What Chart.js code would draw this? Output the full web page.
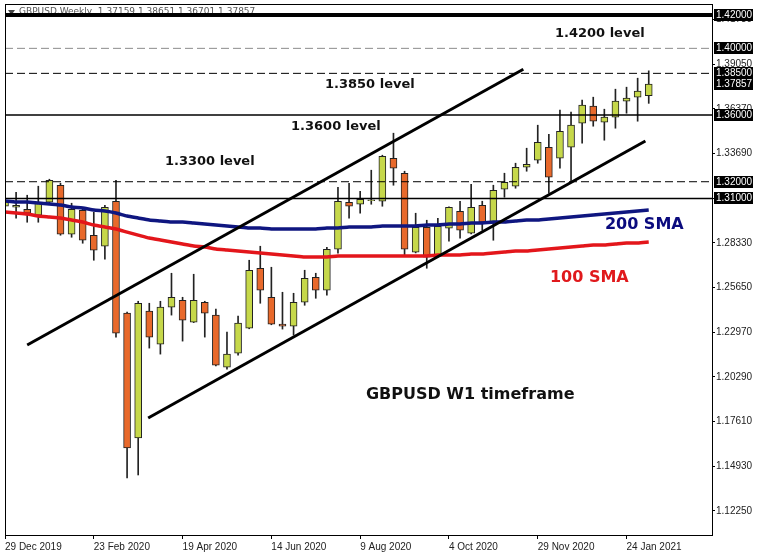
<!DOCTYPE html>
<html>
<head>
<meta charset="utf-8">
<script src="https://cdn.jsdelivr.net/npm/chart.js@4/dist/chart.umd.min.js"></script>
<style>
html,body{margin:0;padding:0;background:#fff;}
#wrap{width:759px;height:558px;position:relative;}
</style>
</head>
<body>
<div id="wrap"><canvas id="c" width="759" height="558"></canvas></div>
<script>
// ---------- data ----------
const headerText = 'GBPUSD,Weekly  1.37159 1.38651 1.36701 1.37857';
const xTickIndex = [0, 8, 16, 24, 32, 40, 48, 56];
const xTickLabels = ['29 Dec 2019', '23 Feb 2020', '19 Apr 2020', '14 Jun 2020', '9 Aug 2020', '4 Oct 2020', '29 Nov 2020', '24 Jan 2021'];
const yTickValues = [1.1225, 1.1493, 1.1761, 1.2029, 1.2297, 1.2565, 1.2833, 1.3101, 1.3369, 1.3637, 1.3905, 1.4173];
const priceBoxValues = [1.42, 1.40, 1.385, 1.37857, 1.36, 1.32, 1.31];

const open = [1.3053,1.3047,1.3035,1.2999,1.3077,1.3179,1.2885,1.3029,1.2879,1.2813,
1.3083,1.2412,1.1663,1.2424,1.2226,1.2448,1.2489,1.2358,1.2477,1.2400,
1.2088,1.2172,1.2322,1.2681,1.2507,1.2346,1.2334,1.2477,1.2627,1.2549,
1.2795,1.3077,1.3065,1.3086,1.3083,1.3341,1.3251,1.2777,1.2927,1.2753,
1.2921,1.3023,1.2891,1.3059,1.2951,1.3155,1.3173,1.3287,1.3329,1.3407,
1.3341,1.3407,1.3551,1.3653,1.3557,1.3587,1.3683,1.3707,1.37159];
const high = [1.3113,1.3137,1.3119,1.3173,1.3215,1.3191,1.3071,1.3047,1.3017,1.3059,
1.3209,1.2418,1.2483,1.2471,1.2483,1.2651,1.2507,1.2645,1.2483,1.2436,
1.2298,1.2394,1.2729,1.2813,1.2687,1.2537,1.2531,1.2669,1.2651,1.2807,
1.3167,1.3191,1.3143,1.3269,1.3359,1.3491,1.3263,1.3011,1.2969,1.2981,
1.3050,1.3083,1.3185,1.3083,1.3179,1.3251,1.3311,1.3401,1.3539,1.3485,
1.3629,1.3617,1.3689,1.3707,1.3635,1.3755,1.3767,1.3821,1.38651];
const low = [1.3029,1.2981,1.2957,1.2957,1.3065,1.2879,1.2867,1.2831,1.2729,1.2735,
1.2268,1.1423,1.1441,1.2202,1.2166,1.2400,1.2244,1.2355,1.2268,1.2095,
1.2076,1.2160,1.2318,1.2471,1.2342,1.2316,1.2280,1.2459,1.2501,1.2519,
1.2771,1.2981,1.3011,1.3065,1.3053,1.3179,1.2759,1.2773,1.2681,1.2747,
1.2843,1.2861,1.2887,1.2909,1.2849,1.3107,1.3161,1.3263,1.3311,1.3131,
1.3281,1.3197,1.3431,1.3533,1.3449,1.3521,1.3611,1.3563,1.36701];
const close = [1.3089,1.3059,1.3011,1.3077,1.3209,1.2885,1.3035,1.2849,1.2789,1.3047,
1.2292,1.1603,1.2471,1.2268,1.2448,1.2507,1.2370,1.2489,1.2412,1.2100,
1.2166,1.2352,1.2669,1.2549,1.2346,1.2334,1.2477,1.2621,1.2549,1.2795,
1.3083,1.3053,1.3095,1.3092,1.3353,1.3281,1.2795,1.2927,1.2747,1.2933,
1.3047,1.2909,1.3047,1.2957,1.3149,1.3197,1.3287,1.3305,1.3437,1.3227,
1.3503,1.3539,1.3659,1.3563,1.3587,1.3683,1.3701,1.3743,1.37857];

const sma200 = [1.3084,1.3078,1.3078,1.3072,1.3066,1.3060,1.3048,1.3042,1.3030,1.3024,
1.3012,1.2994,1.2982,1.2970,1.2964,1.2958,1.2958,1.2952,1.2946,1.2940,
1.2934,1.2928,1.2922,1.2922,1.2916,1.2916,1.2916,1.2916,1.2916,1.2922,
1.2922,1.2928,1.2928,1.2928,1.2934,1.2934,1.2934,1.2934,1.2940,1.2940,
1.2946,1.2946,1.2952,1.2952,1.2958,1.2958,1.2964,1.2970,1.2970,1.2976,
1.2982,1.2988,1.2994,1.3000,1.3006,1.3012,1.3018,1.3024,1.3030];
const sma100 = [1.3018,1.3012,1.3006,1.2994,1.2988,1.2982,1.2970,1.2958,1.2940,1.2928,
1.2916,1.2898,1.2880,1.2862,1.2850,1.2838,1.2826,1.2814,1.2808,1.2796,
1.2790,1.2784,1.2778,1.2772,1.2766,1.2760,1.2754,1.2748,1.2748,1.2748,
1.2754,1.2754,1.2754,1.2754,1.2754,1.2754,1.2754,1.2754,1.2754,1.2760,
1.2760,1.2760,1.2766,1.2766,1.2772,1.2778,1.2784,1.2784,1.2790,1.2796,
1.2802,1.2808,1.2814,1.2820,1.2820,1.2826,1.2832,1.2832,1.2838];

const levelValues = [1.42, 1.40, 1.385, 1.36, 1.32, 1.31];
const upperChannel = [[2.0, 1.2221], [46.7, 1.3875]];
const lowerChannel = [[12.9, 1.1783], [57.7, 1.3444]];

const noteTexts = ['1.4200 level', '1.3850 level', '1.3600 level', '1.3300 level', '200 SMA', '100 SMA', 'GBPUSD W1 timeframe'];

// ---------- presentation ----------
const X_MIN = 0, X_MAX = 63.7, Y_MIN = 1.1081, Y_MAX = 1.4266;
const GREEN = '#c6d84a', ORANGE = '#e8692b', EDGE = '#222222';
const levelStyles = [
  {w: 4, c: '#000', d: []},
  {w: 1, c: '#8c8c8c', d: [8, 4]},
  {w: 1, c: '#000', d: [8, 4]},
  {w: 1.5, c: '#000', d: []},
  {w: 1, c: '#000', d: [8, 4]},
  {w: 1.5, c: '#000', d: []}
];
const noteAnchors = [
  {x: 49.55, y: 1.4091, color: '#111', size: 13},
  {x: 28.83, y: 1.3785, color: '#111', size: 13},
  {x: 25.77, y: 1.3528, color: '#111', size: 13},
  {x: 14.41, y: 1.3318, color: '#111', size: 13},
  {x: 54.05, y: 1.2943, color: '#0b0b7e', size: 16},
  {x: 49.10, y: 1.2625, color: '#e0191c', size: 16},
  {x: 32.52, y: 1.1921, color: '#111', size: 16}
];

const idx = open.map((_, i) => i);
const bodies = idx.map(i => ({x: i, y: [open[i], close[i]]}));
const wicks = idx.map(i => ({x: i, y: [low[i], high[i]]}));
const bodyColors = idx.map(i => close[i] >= open[i] ? GREEN : ORANGE);

const datasets = [];
levelValues.forEach((v, i) => {
  const s = levelStyles[i];
  datasets.push({type: 'line', data: [{x: X_MIN, y: v}, {x: X_MAX, y: v}],
    borderColor: s.c, borderWidth: s.w, borderDash: s.d, pointRadius: 0, order: 3, tension: 0});
});
datasets.push({type: 'line', data: idx.map(i => ({x: i, y: sma200[i]})), borderColor: '#0f1680',
  borderWidth: 3.5, pointRadius: 0, order: 2, tension: 0.2});
datasets.push({type: 'line', data: idx.map(i => ({x: i, y: sma100[i]})), borderColor: '#e3161b',
  borderWidth: 3.5, pointRadius: 0, order: 2, tension: 0.2});
[upperChannel, lowerChannel].forEach(seg => {
  datasets.push({type: 'line', data: seg.map(p => ({x: p[0], y: p[1]})), borderColor: '#000',
    borderWidth: 3, pointRadius: 0, order: 1});
});
datasets.push({type: 'bar', data: wicks, backgroundColor: EDGE, barThickness: 1, grouped: false, order: 5});
datasets.push({type: 'bar', data: bodies, backgroundColor: bodyColors, borderColor: EDGE, borderWidth: 1,
  borderSkipped: false, barThickness: 7, grouped: false, order: 4});

const overlay = {
  id: 'overlay',
  beforeDatasetsDraw(chart) {
    const ctx = chart.ctx;
    ctx.save();
    ctx.fillStyle = '#444';
    ctx.beginPath();
    ctx.moveTo(8, 10); ctx.lineTo(15, 10); ctx.lineTo(11.5, 15); ctx.closePath(); ctx.fill();
    ctx.font = '9px "DejaVu Sans"';
    ctx.fillStyle = '#555';
    ctx.textBaseline = 'middle';
    ctx.fillText(headerText, 19, 12);
    ctx.restore();
  },
  afterDatasetsDraw(chart) {
    const ctx = chart.ctx, xs = chart.scales.x, ys = chart.scales.y;
    ctx.save();
    ctx.textBaseline = 'middle';
    ctx.textAlign = 'left';
    noteTexts.forEach((t, i) => {
      const a = noteAnchors[i];
      ctx.font = 'bold ' + a.size + 'px "DejaVu Sans"';
      ctx.fillStyle = a.color;
      ctx.fillText(t, xs.getPixelForValue(a.x), ys.getPixelForValue(a.y));
    });
    ctx.restore();
  },
  afterDraw(chart) {
    const ctx = chart.ctx, a = chart.chartArea, ys = chart.scales.y;
    ctx.save();
    ctx.strokeStyle = '#000';
    ctx.lineWidth = 1;
    ctx.strokeRect(Math.round(a.left) + 0.5, Math.round(a.top) + 0.5, Math.round(a.right - a.left), Math.round(a.bottom - a.top));
    ctx.font = '10px "Liberation Sans"';
    ctx.textBaseline = 'middle';
    ctx.textAlign = 'left';
    priceBoxValues.forEach(v => {
      const py = Math.round(ys.getPixelForValue(v));
      ctx.fillStyle = '#000';
      ctx.fillRect(a.right + 2, py - 6, 39, 12);
      ctx.fillStyle = '#fff';
      ctx.fillText(v.toFixed(5), a.right + 4, py + 0.5);
    });
    ctx.restore();
  }
};

new Chart(document.getElementById('c'), {
  type: 'bar',
  data: {datasets},
  options: {
    responsive: false,
    animation: false,
    devicePixelRatio: 1,
    layout: {padding: {left: 5, top: 4, right: 0, bottom: 0}},
    plugins: {legend: {display: false}, tooltip: {enabled: false}},
    scales: {
      x: {
        type: 'linear', min: X_MIN, max: X_MAX, offset: false, bounds: 'data',
        grid: {drawOnChartArea: false, drawTicks: true, tickLength: 4, color: '#000', offset: false},
        border: {display: true, color: '#000', width: 1},
        afterBuildTicks: s => { s.ticks = xTickIndex.map(v => ({value: v})); },
        afterFit: s => { s.height = 23; s.paddingLeft = 0; s.paddingRight = 0; },
        ticks: {autoSkip: false, maxRotation: 0, minRotation: 0, align: 'start', padding: 2,
          color: '#222', font: {family: 'Liberation Sans', size: 10},
          callback: v => xTickLabels[xTickIndex.indexOf(v)]}
      },
      y: {
        type: 'linear', position: 'right', min: Y_MIN, max: Y_MAX, bounds: 'data',
        grid: {drawOnChartArea: false, drawTicks: true, tickLength: 3, color: '#000'},
        border: {display: true, color: '#000', width: 1},
        afterBuildTicks: s => { s.ticks = yTickValues.map(v => ({value: v})); },
        afterFit: s => { s.width = 47; s.paddingTop = 0; s.paddingBottom = 0; },
        ticks: {padding: 1, color: '#222', font: {family: 'Liberation Sans', size: 10},
          callback: v => Number(v).toFixed(5)}
      }
    }
  },
  plugins: [overlay]
});
</script>
</body>
</html>
